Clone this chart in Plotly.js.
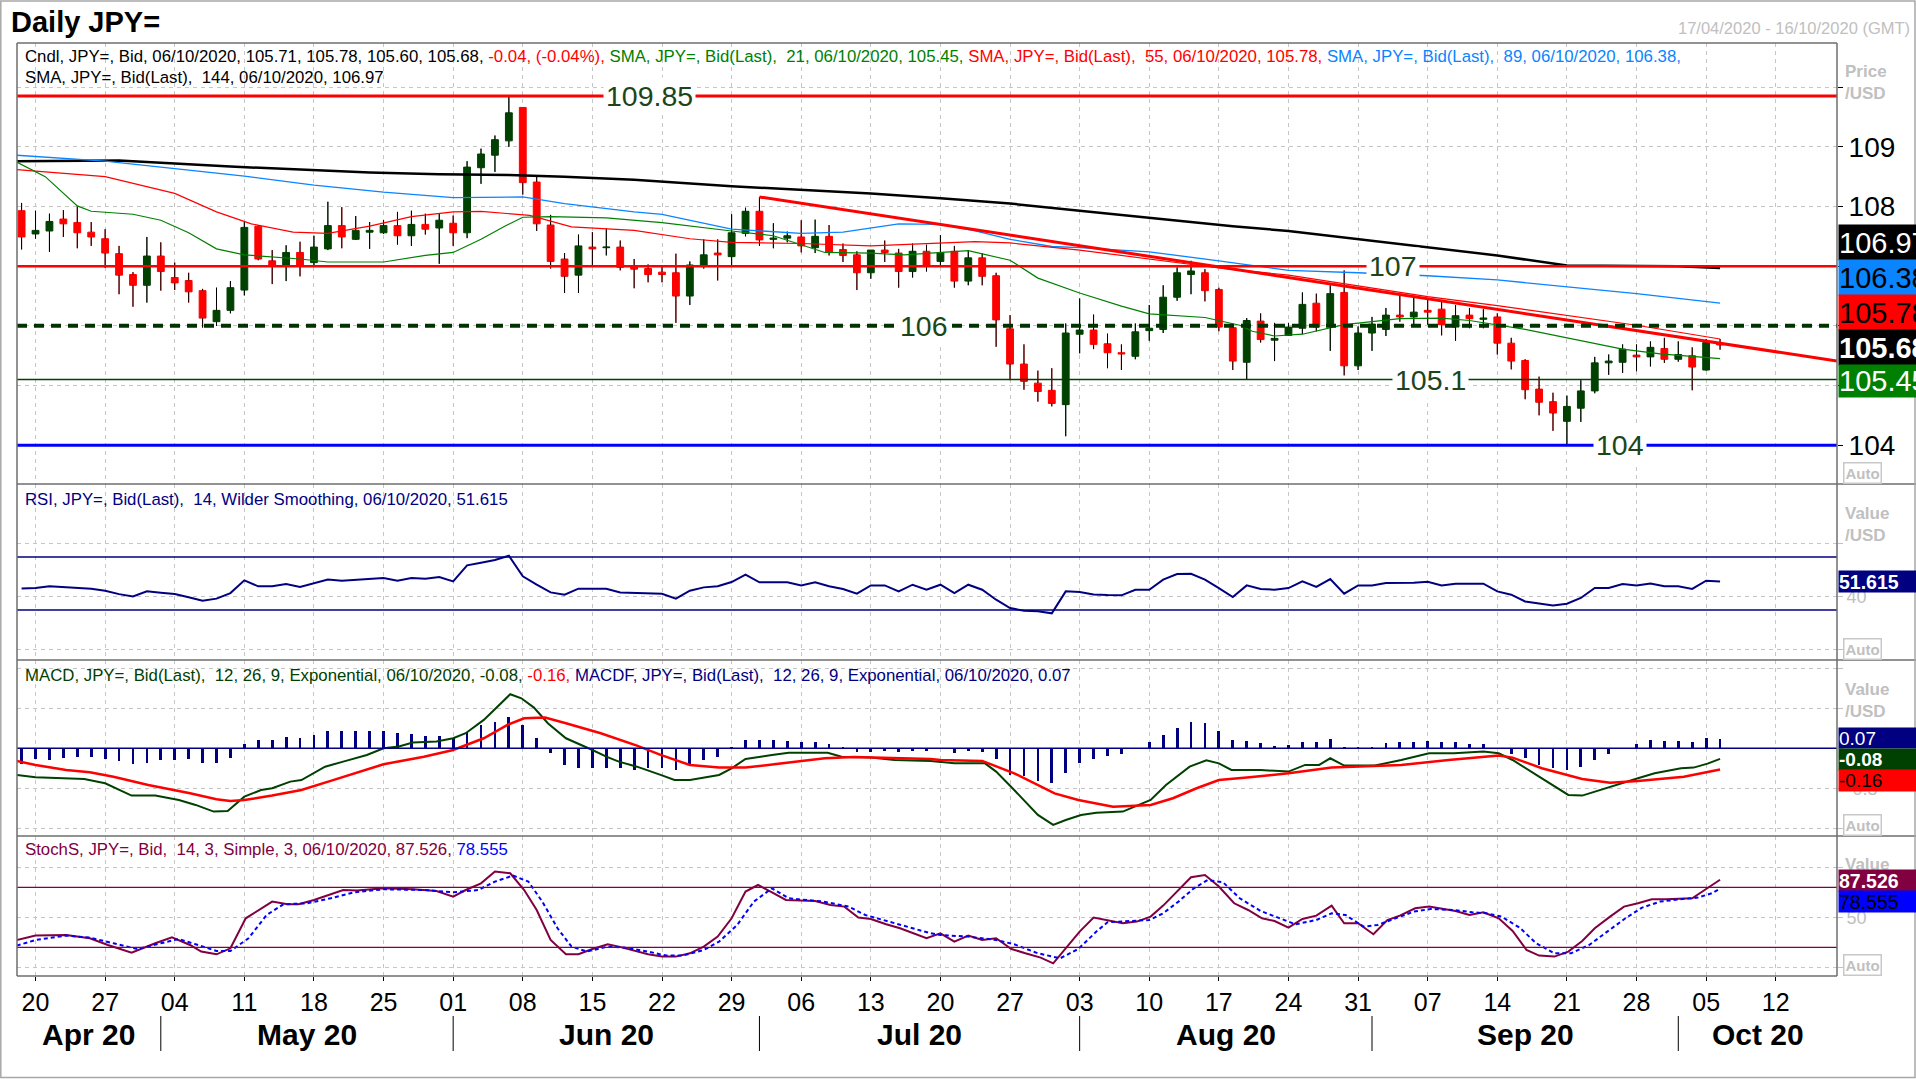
<!DOCTYPE html>
<html><head><meta charset="utf-8">
<script src="https://cdn.plot.ly/plotly-3.0.1.min.js"></script>
<style>html,body{margin:0;padding:0;background:#fff;overflow:hidden}#chart{width:1916px;height:1079px}</style>
</head><body><div id="chart"></div>
<script>
// ---------------- DATA ----------------
const openP = [107.93,107.54,107.59,107.79,107.73,107.57,107.46,107.21,106.86,106.68,
107.17,106.81,106.76,106.59,106.07,106.26,106.60,107.67,107.09,107.00,
107.23,107.06,107.29,107.68,107.45,107.57,107.56,107.68,107.51,107.70,
107.64,107.72,107.56,108.65,108.86,109.10,109.66,108.41,107.69,107.12,
106.85,107.32,107.31,107.32,107.01,106.96,106.90,106.89,106.50,107.02,
107.22,107.16,107.55,107.92,107.45,107.47,107.49,107.31,107.50,107.28,
107.19,106.89,107.27,107.22,106.91,107.25,107.08,107.25,106.75,107.14,
106.84,105.95,105.36,105.04,104.92,104.68,105.86,105.93,105.70,105.55,
105.49,105.92,105.94,106.48,106.86,106.89,106.61,105.97,105.39,106.08,
105.76,105.84,105.96,106.38,105.99,106.56,105.33,105.88,105.94,106.18,
106.15,106.26,106.28,105.98,106.18,106.11,106.15,105.71,105.42,104.94,
104.73,104.40,104.62,104.91,105.38,105.39,105.51,105.48,105.62,105.44,
105.50,105.26,105.71];
const highP = [108.06,107.93,107.88,107.94,108.00,107.74,107.62,107.34,106.90,107.49,
107.40,107.06,106.89,106.62,106.64,106.75,107.74,107.69,107.27,107.35,
107.41,107.51,108.08,107.99,107.84,107.74,107.77,107.91,107.93,107.88,
107.88,107.85,108.76,108.97,109.19,109.85,109.66,108.50,107.86,107.22,
107.53,107.57,107.63,107.43,107.12,107.03,107.01,107.21,107.08,107.45,
107.45,107.87,107.98,108.16,107.72,107.58,107.77,107.78,107.69,107.38,
107.25,107.27,107.43,107.29,107.38,107.36,107.52,107.34,107.27,107.22,
106.89,106.18,105.69,105.25,105.29,106.04,106.46,106.19,105.87,105.69,
106.04,106.35,106.68,106.98,107.09,106.95,106.64,106.02,106.13,106.21,
106.05,106.05,106.56,106.54,106.68,106.93,105.99,106.15,106.30,106.52,
106.50,106.46,106.40,106.35,106.30,106.28,106.21,105.80,105.44,105.15,
104.88,104.83,105.09,105.48,105.52,105.69,105.69,105.74,105.80,105.74,
105.64,105.78,105.78];
const lowP = [107.28,107.46,107.24,107.49,107.30,107.34,106.97,106.53,106.32,106.39,
106.59,106.60,106.39,105.97,106.00,106.21,106.51,107.10,106.70,106.75,
106.83,107.01,107.27,107.30,107.44,107.29,107.54,107.36,107.34,107.53,
107.04,107.34,107.47,108.38,108.58,109.00,108.20,107.59,106.96,106.55,
106.55,106.99,107.18,106.93,106.63,106.73,106.73,106.05,106.35,106.96,
106.76,107.01,107.50,107.34,107.30,107.40,107.23,107.22,107.18,107.07,
106.60,106.79,107.07,106.64,106.81,106.91,107.01,106.64,106.68,106.68,
105.65,105.09,104.93,104.73,104.65,104.15,105.54,105.61,105.29,105.26,
105.44,105.75,105.88,106.42,106.53,106.41,105.91,105.26,105.10,105.72,
105.41,105.83,105.86,105.91,105.58,105.17,105.26,105.58,105.83,106.07,
106.02,106.02,105.84,105.75,105.96,105.96,105.52,105.27,104.77,104.50,
104.24,104.00,104.39,104.87,105.18,105.21,105.24,105.32,105.38,105.40,
104.92,105.25,105.60];
const closeP = [107.49,107.60,107.75,107.71,107.56,107.49,107.22,106.85,106.68,107.17,
106.91,106.72,106.57,106.13,106.26,106.64,107.65,107.12,107.00,107.23,
107.00,107.32,107.68,107.49,107.60,107.60,107.68,107.51,107.70,107.62,
107.77,107.56,108.66,108.88,109.12,109.57,108.40,107.71,107.08,106.83,
107.34,107.29,107.32,106.98,106.95,106.86,106.86,106.50,107.02,107.19,
107.19,107.56,107.92,107.44,107.47,107.51,107.34,107.50,107.24,107.18,
106.89,107.27,107.23,106.91,107.25,107.01,107.23,106.75,107.14,106.83,
106.10,105.36,105.07,104.90,104.70,105.88,105.93,105.69,105.55,105.53,
105.90,105.96,106.48,106.89,106.92,106.59,105.98,105.41,106.09,105.77,
105.79,105.98,106.36,105.98,106.54,105.33,105.88,106.03,106.18,106.15,
106.23,106.23,106.02,106.17,106.12,106.13,105.71,105.41,104.93,104.72,
104.54,104.65,104.91,105.38,105.41,105.61,105.48,105.64,105.44,105.52,
105.31,105.72,105.68];
const lastChange = '-0.04, (-0.04%)';

// moving averages (read points: trading-day index, value)
const sma21X = [-0.4,1.7,4,5,8,10,12,14,16,20,22,26,29,31,33,34.7,36,38,42,44,46,51,54,57.7,61,63.4,68,71,73,76,79,81,85,87.5,88.4,90,92,95,99,102,104,108,115,117.7,122];
const sma21Y = [108.75,108.50,108.01,107.92,107.87,107.77,107.56,107.29,107.19,107.12,107.07,107.07,107.18,107.23,107.45,107.67,107.82,107.83,107.81,107.77,107.73,107.59,107.51,107.23,107.22,107.19,107.26,107.10,106.80,106.55,106.33,106.20,106.14,106.01,105.91,105.83,105.86,106.02,106.12,106.13,106.09,105.94,105.61,105.53,105.45];
const sma55X = [-0.4,6,11,14,16.5,19.5,22,25,28,31,33,36.5,39.5,44,48,51,56,61,68.5,71,76,81,86,91,96,101,106,111,116,122];
const sma55Y = [108.62,108.50,108.22,107.91,107.71,107.57,107.55,107.67,107.83,107.91,107.92,107.85,107.66,107.60,107.46,107.40,107.38,107.34,107.41,107.39,107.27,107.12,106.97,106.85,106.67,106.49,106.34,106.18,106.01,105.78];
const sma89X = [-0.4,6,16,21,26,31,36,39,44,46,51,56,59,63,66,68.5,71,74,76,81,86,91,96,101,106,111,116,122];
const sma89Y = [108.86,108.76,108.51,108.36,108.24,108.15,108.16,108.05,107.91,107.87,107.62,107.55,107.57,107.71,107.70,107.59,107.45,107.33,107.31,107.24,107.09,106.93,106.89,106.84,106.77,106.65,106.54,106.38];
const sma144X = [-0.4,7,15,20,25,30,35,39,44,51,61,66,71,76,81,87,91,96,101,106,111,116,119,122];
const sma144Y = [108.76,108.77,108.67,108.62,108.57,108.54,108.53,108.50,108.45,108.34,108.22,108.14,108.05,107.93,107.81,107.67,107.59,107.45,107.32,107.18,107.01,107.01,107.00,106.97];

// trendline (from Jul 1 high to chart right edge)
const trendX = [53, 130.4];
const trendY = [108.16, 105.41];

// horizontal levels
const levels = [109.85, 107, 106, 105.1, 104];
const levelLabelX = [45.1, 98.5, 64.8, 101.2, 114.8];

// RSI (14) per trading day
const rsi = [46.3,46.6,47.9,47.3,46.5,46.1,44.6,42.0,40.3,44.1,
43.0,42.1,39.6,37.0,38.6,42.8,52.4,47.9,47.9,49.6,
47.4,50.1,53.1,52.1,52.9,53.5,54.2,52.1,54.2,53.7,
54.9,51.6,63.7,65.7,67.7,71.0,55.4,49.1,43.3,41.6,
46.1,46.1,46.1,43.3,43.1,42.8,42.3,38.6,44.6,47.1,
47.9,51.1,56.7,50.9,50.9,50.9,48.6,50.9,47.9,45.9,
42.3,48.6,48.6,44.1,49.1,45.3,49.1,42.8,49.1,45.3,
37.8,31.5,29.5,29.0,27.5,44.1,43.6,41.8,41.3,41.1,
45.3,45.3,52.9,57.2,57.4,52.9,46.6,39.8,48.6,45.9,
45.3,46.6,51.6,47.4,53.4,42.3,48.6,48.6,50.4,50.6,
50.6,51.4,48.6,49.9,49.9,49.9,44.1,41.6,36.5,35.0,
33.5,34.8,39.1,46.6,46.6,49.6,48.6,50.1,47.9,47.9,
45.9,52.1,51.615];
const rsiLevels = [70, 30];

// MACD (12,26,9)
const macdX = [-0.35,1,4.5,6,7.9,9.6,11.3,12.5,13.8,14.8,16,17.2,18,19.3,20.1,21.8,23.1,24.8,26,27.1,28.1,29.8,31,31.9,33.2,34.2,35.1,35.9,36.8,37.8,39.1,41,42,42.9,44.2,45.9,46.9,48,50.1,51,52,53.9,55.1,57.9,58.9,61,62.7,65.3,67,69.2,70,71.3,73,74.1,75,76.1,77.2,79.1,81.1,82.2,83.9,85.1,86,86.9,89,91,92.2,93.2,94,95,97.2,99.1,101.1,102.9,105,106.1,107.1,108.8,110.1,111.1,112.1,114.1,116.1,117.3,119.2,120.1,121.1,122];
const macdY = [-0.20,-0.218,-0.23,-0.263,-0.355,-0.355,-0.388,-0.425,-0.475,-0.47,-0.363,-0.313,-0.30,-0.25,-0.238,-0.138,-0.10,-0.05,0,0.013,0.043,0.05,0.075,0.113,0.213,0.313,0.405,0.375,0.305,0.188,0.075,-0.013,-0.063,-0.10,-0.138,-0.20,-0.238,-0.238,-0.20,-0.15,-0.08,-0.05,-0.033,-0.033,-0.063,-0.07,-0.088,-0.095,-0.113,-0.113,-0.175,-0.313,-0.50,-0.575,-0.538,-0.50,-0.483,-0.475,-0.388,-0.275,-0.138,-0.09,-0.113,-0.163,-0.163,-0.175,-0.125,-0.125,-0.075,-0.13,-0.13,-0.088,-0.038,-0.038,-0.025,-0.038,-0.088,-0.20,-0.288,-0.35,-0.355,-0.288,-0.225,-0.188,-0.15,-0.145,-0.115,-0.08];
const signalX = [-0.35,1,3.2,4.9,6.6,9.1,12.1,14,15,16,18,20.1,22.2,24.3,26,28.9,31,33.2,34.9,36.1,37.6,39.1,41.6,44.2,45.9,48,50.1,52,54.3,57.7,59.8,62.7,65.3,66,69,71.3,74.2,75.9,78.4,81.1,82.7,84.4,86,88.2,91,94.1,96.2,99.1,102.5,105,106.1,107.1,109.2,112.1,114.1,116.1,119.4,122];
const signalY = [-0.095,-0.125,-0.163,-0.18,-0.213,-0.275,-0.338,-0.383,-0.395,-0.388,-0.355,-0.313,-0.245,-0.175,-0.12,-0.063,-0.013,0.075,0.175,0.225,0.23,0.188,0.113,0.02,-0.05,-0.125,-0.145,-0.145,-0.118,-0.075,-0.065,-0.07,-0.08,-0.088,-0.095,-0.188,-0.338,-0.388,-0.438,-0.425,-0.375,-0.30,-0.238,-0.218,-0.188,-0.145,-0.138,-0.125,-0.088,-0.063,-0.055,-0.07,-0.15,-0.23,-0.258,-0.245,-0.213,-0.16];
const macdHist = [-0.12,-0.083,-0.088,-0.07,-0.063,-0.063,-0.08,-0.095,-0.12,-0.113,
-0.088,-0.088,-0.083,-0.113,-0.113,-0.075,0.03,0.063,0.063,0.088,
0.075,0.10,0.133,0.133,0.133,0.133,0.133,0.113,0.105,0.095,
0.095,0.075,0.125,0.175,0.20,0.238,0.175,0.075,-0.038,-0.125,
-0.145,-0.145,-0.145,-0.15,-0.163,-0.15,-0.145,-0.163,-0.125,-0.088,
-0.063,0.013,0.063,0.063,0.063,0.055,0.05,0.05,0.03,0.013,
-0.025,-0.025,-0.018,-0.025,-0.018,-0.02,-0.008,-0.038,-0.02,-0.03,
-0.08,-0.2,-0.205,-0.245,-0.263,-0.188,-0.113,-0.08,-0.055,-0.045,
0,0.045,0.10,0.155,0.195,0.188,0.13,0.063,0.058,0.038,
0.02,0.025,0.05,0.045,0.07,0.008,0.008,0.013,0.038,0.045,
0.05,0.058,0.045,0.045,0.035,0.035,0,-0.045,-0.07,-0.125,
-0.145,-0.163,-0.138,-0.088,-0.04,0,0.033,0.063,0.058,0.058,
0.05,0.075,0.07];

// Slow stochastics (14,3,3)
const stochKX = [-0.35,1,3.2,4.9,6.2,7.9,9.6,10.8,12.1,12.9,14,15,16.1,18,19.1,19.9,21,22,23.1,24.1,26,28.1,29.8,31,31.9,33,34,35.1,36.1,37,38,39.1,40,41,42.1,42.9,44,45,46,47,48,49,50,51,52,52.9,53.9,54.9,57,58.1,59.1,60.1,61,62.1,63.1,64,65,66,67,68,69,70,71.1,72.1,73.2,74.1,75.1,76,77,78,79.1,80.1,81.1,82,83,84,85,86,87.1,88.1,89.1,90,91,92,93,94.1,95,96,97.1,98.1,99,100.1,101.1,102,103,104,105,106.1,107.1,108.1,109,110.1,111.1,112.1,113,114.1,115.1,116.1,117.1,118.1,119.1,120,121,122];
const stochKY = [27.3,31.7,32.3,29,22.3,14.7,24,30,22.3,15.7,13,19,49,65.7,63,63,67.3,71.7,77.3,76.7,79,78,76.3,70.7,77.3,84,95.7,94,77.3,57.3,27.3,13,13,18.3,23,20.7,16.7,13,10.7,10.7,14,20.7,30.7,49,75.7,82.3,75,67.3,66.3,62.3,60.7,49.7,48.3,43,39,34,29,34,25.7,31.7,27.3,29,18.3,14,9.7,4,20.7,35.7,49.7,47.3,44,45.7,50.7,61.7,75.7,90,92.3,80.7,64,57.3,49,46.3,39.7,48.3,51.7,61.7,44,44,33,47.3,51.7,59,60.7,58.3,56.3,52.3,55,49,36.3,17.3,11.7,10.7,15.7,26.3,39,50.7,60.7,64,68,68,68.3,69,78.3,87.526];
const stochDX = [-0.35,1,3.2,4.9,6.6,8.3,10,11.3,12.5,14,15,16.3,17.6,18.8,20.5,22.2,23.9,26,29,31,32.8,34,35.3,36.4,37.4,38.5,39.5,40.6,42.1,43.3,45,46.3,47.5,49,50.1,51.4,52.6,53.9,55.1,57.6,59.4,60.6,62.3,64,65.3,66,68,70,71.3,73,74.6,75.9,77.2,78,79.3,81,82,83.1,84.2,85.2,86.3,87.5,89,90.3,91.5,93,94.1,95.1,96.4,97.4,98.7,100,101.2,102.9,104.2,105.2,106.3,107.6,108.8,110.1,111.3,112.6,113.9,115.2,116.4,117.7,119.3,120.4,121.4,122];
const stochDY = [21.7,27.3,31.7,29.7,24,18.3,24,28.3,23,16.3,16.3,29,52.3,63,64,69,75,78,77.3,75,77.3,85.7,91.7,85.7,65.7,39,20.7,15.7,20.7,19.7,15.7,11.7,11.7,17.3,25.7,42.3,65.7,79,69,65.7,60.7,52.3,45.7,39,34,32.3,30.7,27.3,23,14,9,18.3,35.7,45,45.7,47.3,54,65.7,79,87.3,85,69,56.3,49,43,47.3,54,52.3,40.7,42.3,49,55.7,58.3,57.3,55,54,50.7,39.7,24,14,14,22.3,35.7,49,59.7,65.7,68.3,69.7,74,78.555];
const stochLevels = [80, 20];

// axis labels
const dayLabels = ['20','27','04','11','18','25','01','08','15','22','29','06','13','20','27','03','10','17','24','31','07','14','21','28','05','12'];
const monthNames = ['Apr 20','May 20','Jun 20','Jul 20','Aug 20','Sep 20','Oct 20'];
const monthStartIdx = [10, 31, 53, 76, 97, 119];
const priceTicks = [104,105,106,107,108,109,110];

// ---------------- LAYOUT HELPERS ----------------
const FONT = 'Liberation Sans, Arial, sans-serif';
const L = 17, R = 1837, T = 43, B = 976;
const px = x => (x - L) / (R - L);
const py = y => (B - y) / (B - T);
const xMin = -0.33, xMax = 130.4;
const GRID = '#c6c6c6', GDASH = '4px,4px';
const last = a => a[a.length - 1];

const days = openP.map((_, i) => i);
const mondayIdx = dayLabels.map((_, k) => 1 + 5 * k);

// wick segments outside bodies (black)
const wx = [], wy = [];
days.forEach(i => {
  const top = Math.max(openP[i], closeP[i]), bot = Math.min(openP[i], closeP[i]);
  wx.push(i, i, null, i, i, null);
  wy.push(highP[i], top, null, bot, lowP[i], null);
});

const traces = [
  {type:'candlestick', x:days, open:openP, high:highP, low:lowP, close:closeP, xaxis:'x', yaxis:'y',
   increasing:{line:{color:'#004000', width:1}, fillcolor:'#004000'},
   decreasing:{line:{color:'#ff0000', width:1}, fillcolor:'#ff0000'},
   whiskerwidth:0, hoverinfo:'none', showlegend:false},
  {type:'scatter', mode:'lines', x:wx, y:wy, xaxis:'x', yaxis:'y', line:{color:'#000', width:1}, hoverinfo:'skip', connectgaps:false},
  {type:'scatter', mode:'lines', x:sma144X, y:sma144Y, xaxis:'x', yaxis:'y', line:{color:'#000', width:2.5}, hoverinfo:'skip'},
  {type:'scatter', mode:'lines', x:sma89X, y:sma89Y, xaxis:'x', yaxis:'y', line:{color:'#0a84ff', width:1.3}, hoverinfo:'skip'},
  {type:'scatter', mode:'lines', x:sma55X, y:sma55Y, xaxis:'x', yaxis:'y', line:{color:'#ff0000', width:1.2}, hoverinfo:'skip'},
  {type:'scatter', mode:'lines', x:sma21X, y:sma21Y, xaxis:'x', yaxis:'y', line:{color:'#008000', width:1.2}, hoverinfo:'skip'},
  {type:'scatter', mode:'lines', x:trendX, y:trendY, xaxis:'x', yaxis:'y', line:{color:'#ff0000', width:3}, hoverinfo:'skip'},
  // RSI
  {type:'scatter', mode:'lines', x:days, y:rsi, xaxis:'x', yaxis:'y2', line:{color:'#000080', width:2}, hoverinfo:'skip'},
  // MACD
  {type:'bar', x:days, y:macdHist, xaxis:'x', yaxis:'y3', marker:{color:'#000080', line:{width:0}}, width:0.2, hoverinfo:'skip'},
  {type:'scatter', mode:'lines', x:macdX, y:macdY, xaxis:'x', yaxis:'y3', line:{color:'#004000', width:2}, hoverinfo:'skip'},
  {type:'scatter', mode:'lines', x:signalX, y:signalY, xaxis:'x', yaxis:'y3', line:{color:'#ff0000', width:2.5}, hoverinfo:'skip'},
  // Stochastics
  {type:'scatter', mode:'lines', x:stochKX, y:stochKY, xaxis:'x', yaxis:'y4', line:{color:'#800040', width:2}, hoverinfo:'skip'},
  {type:'scatter', mode:'lines', x:stochDX, y:stochDY, xaxis:'x', yaxis:'y4', line:{color:'#0000ff', width:2, dash:'4px,3px'}, hoverinfo:'skip'}
];

// ---------------- SHAPES ----------------
const levelStyle = [
  {color:'#ff0000', width:3, dash:'solid'},
  {color:'#ff0000', width:2.5, dash:'solid'},
  {color:'#003300', width:4, dash:'10px,7px'},
  {color:'#004000', width:1.5, dash:'solid'},
  {color:'#0000ff', width:3, dash:'solid'}
];
const shapes = [];
levels.forEach((v, k) => shapes.push({type:'line', xref:'x', yref:'y', x0:xMin, x1:xMax, y0:v, y1:v, line:levelStyle[k], layer:'above'}));
rsiLevels.forEach(v => shapes.push({type:'line', xref:'x', yref:'y2', x0:xMin, x1:xMax, y0:v, y1:v, line:{color:'#000080', width:1.5}}));
shapes.push({type:'line', xref:'x', yref:'y3', x0:xMin, x1:xMax, y0:0, y1:0, line:{color:'#000080', width:1.5}});
stochLevels.forEach(v => shapes.push({type:'line', xref:'x', yref:'y4', x0:xMin, x1:xMax, y0:v, y1:v, line:{color:'#800040', width:1.3}}));
// frame and panel separators
const FR = {color:'#6e6e6e', width:1.5};
shapes.push({type:'line', xref:'paper', yref:'paper', x0:0, x1:1, y0:1, y1:1, line:FR});
shapes.push({type:'line', xref:'paper', yref:'paper', x0:0, x1:0, y0:0, y1:1, line:FR});
shapes.push({type:'line', xref:'paper', yref:'paper', x0:1, x1:1, y0:0, y1:1, line:FR});
shapes.push({type:'line', xref:'paper', yref:'paper', x0:0, x1:1, y0:0, y1:0, line:FR});
[484, 660, 836].forEach(y => shapes.push({type:'line', xref:'paper', yref:'paper', x0:0, x1:px(1916), y0:py(y), y1:py(y), line:FR}));
// outer border of picture
shapes.push({type:'rect', xref:'paper', yref:'paper', x0:px(0.8), x1:px(1915), y0:py(1077.5), y1:py(1), line:{color:'#a8a8a8', width:1.5}});
// month separators
monthStartIdx.forEach(m => shapes.push({type:'line', xref:'x', yref:'paper', x0:m, x1:m, y0:py(1016), y1:py(1051), line:{color:'#000', width:1}}));

// ---------------- ANNOTATIONS ----------------
const ann = [];
const LF = 16.8;
const A = (o) => ann.push(Object.assign({showarrow:false, xref:'paper', yref:'paper', xanchor:'left', yanchor:'middle', font:{family:FONT, size:LF, color:'#000'}}, o));
const n = closeP.length - 1;
const sp = (c, t) => `<span style="color:${c}">${t}</span>`;

A({x:px(9), y:py(22), text:'<b>Daily JPY=</b>', font:{family:FONT, size:29, color:'#000'}});
A({x:px(1912), y:py(28), xanchor:'right', text:'17/04/2020 - 16/10/2020 (GMT)', font:{family:FONT, size:16.5, color:'#c0c0c0'}});
A({x:px(23), y:py(56), text:
  sp('#000', `Cndl, JPY=, Bid, 06/10/2020, ${openP[n].toFixed(2)}, ${highP[n].toFixed(2)}, ${lowP[n].toFixed(2)}, ${closeP[n].toFixed(2)}, `) +
  sp('#ff0000', lastChange + ', ') +
  sp('#008000', `SMA, JPY=, Bid(Last),&nbsp; 21, 06/10/2020, ${last(sma21Y).toFixed(2)}, `) +
  sp('#ff0000', `SMA, JPY=, Bid(Last),&nbsp; 55, 06/10/2020, ${last(sma55Y).toFixed(2)}, `) +
  sp('#0a84ff', `SMA, JPY=, Bid(Last),&nbsp; 89, 06/10/2020, ${last(sma89Y).toFixed(2)},`)});
A({x:px(23), y:py(77), text:`SMA, JPY=, Bid(Last),&nbsp; 144, 06/10/2020, ${last(sma144Y).toFixed(2)}`});
A({x:px(23), y:py(499), text:sp('#000080', `RSI, JPY=, Bid(Last),&nbsp; 14, Wilder Smoothing, 06/10/2020, ${rsi[n].toFixed(3)}`)});
A({x:px(23), y:py(675), text:
  sp('#004000', `MACD, JPY=, Bid(Last),&nbsp; 12, 26, 9, Exponential, 06/10/2020, ${last(macdY).toFixed(2)}, `) +
  sp('#ff0000', `${last(signalY).toFixed(2)}, `) +
  sp('#000080', `MACDF, JPY=, Bid(Last),&nbsp; 12, 26, 9, Exponential, 06/10/2020, ${macdHist[n].toFixed(2)}`)});
A({x:px(23), y:py(849), text:
  sp('#800040', `StochS, JPY=, Bid,&nbsp; 14, 3, Simple, 3, 06/10/2020, ${last(stochKY).toFixed(3)}, `) +
  sp('#0000ff', `${last(stochDY).toFixed(3)}`)});

// level labels
levels.forEach((v, k) => ann.push({showarrow:false, xref:'x', yref:'y', x:levelLabelX[k], y:v, xanchor:'center', yanchor:'middle',
  text:String(v), bgcolor:'#ffffff', borderpad:2, font:{family:FONT, size:28.5, color:'#1b461b'}}));

// right-hand headers
const GR = '#c0c0c0';
A({x:px(1843), y:py(83), text:'<b>Price</b><br><b>/USD</b>', align:'left', font:{family:FONT, size:17, color:GR}});
A({x:px(1843), y:py(524), text:'<b>Value</b><br><b>/USD</b>', align:'left', font:{family:FONT, size:17, color:GR}});
A({x:px(1843), y:py(700), text:'<b>Value</b><br><b>/USD</b>', align:'left', font:{family:FONT, size:17, color:GR}});
A({x:px(1843), y:py(864), text:'<b>Value</b>', font:{family:FONT, size:17, color:GR}});
[473, 649, 825, 965].forEach(y => A({x:px(1843), y:py(y), text:'<b>Auto</b>', bordercolor:'#c8c8c8', borderwidth:1.5, borderpad:1, font:{family:FONT, size:15, color:GR}}));

// right-hand value boxes
const box = (y, h, txt, bg, fc, size, bold) => A({x:px(1838), y:py(y), width:92, height:h, align:'left', bgcolor:bg, borderpad:0,
  text: bold ? `<b>${txt}</b>` : txt, font:{family:FONT, size:size, color:fc}});
box(242.5, 35, last(sma144Y).toFixed(2), '#000000', '#ffffff', 29, false);
box(277.5, 35, last(sma89Y).toFixed(2), '#0a84ff', '#000000', 29, false);
box(312.5, 35, last(sma55Y).toFixed(2), '#ff0000', '#000000', 29, false);
box(347.5, 35, closeP[n].toFixed(2), '#000000', '#ffffff', 29, true);
box(381, 32, last(sma21Y).toFixed(2), '#008000', '#ffffff', 29, false);
box(582, 21, rsi[n].toFixed(3), '#000080', '#ffffff', 19.5, true);
box(738, 20, macdHist[n].toFixed(2), '#000080', '#ffffff', 19, false);
box(759, 21, last(macdY).toFixed(2), '#004000', '#ffffff', 19, true);
box(780, 21, last(signalY).toFixed(2), '#ff0000', '#000000', 19, false);
box(880, 21, last(stochKY).toFixed(3), '#800040', '#ffffff', 19.5, true);
box(901, 21, last(stochDY).toFixed(3), '#0000ff', '#000000', 19.5, false);

// month labels
const bounds = [xMin].concat(monthStartIdx, [xMax]);
monthNames.forEach((m, k) => ann.push({showarrow:false, xref:'x', yref:'paper', x:(bounds[k] + bounds[k+1]) / 2, y:py(1034),
  xanchor:'center', yanchor:'middle', text:`<b>${m}</b>`, font:{family:FONT, size:30, color:'#000'}}));

// ---------------- AXES ----------------
const yBase = {anchor:'x', side:'right', showgrid:true, gridcolor:GRID, griddash:GDASH, gridwidth:1, zeroline:false, showline:false,
  tickmode:'array', ticks:'outside', ticklen:5, fixedrange:true};
const layout = {
  width:1916, height:1079, margin:{l:L, r:1916 - R, t:T, b:1079 - B, pad:0},
  paper_bgcolor:'#ffffff', plot_bgcolor:'#ffffff', showlegend:false, hovermode:false, dragmode:false,
  font:{family:FONT, color:'#000'}, bargap:0,
  xaxis:{domain:[0,1], anchor:'y4', range:[xMin, xMax], tickmode:'array', tickvals:mondayIdx, ticktext:dayLabels,
    tickfont:{family:FONT, size:25, color:'#000'}, ticks:'outside', ticklen:4, tickcolor:'#000', ticklabelstandoff:0,
    showgrid:true, gridcolor:GRID, griddash:GDASH, gridwidth:1, zeroline:false, showline:false,
    rangeslider:{visible:false}, fixedrange:true},
  yaxis:Object.assign({}, yBase, {domain:[py(484), 1], range:[103.35, 110.74], tickvals:priceTicks,
    ticktext:priceTicks.map(v => v === 110 ? '' : String(v)), tickfont:{family:FONT, size:28, color:'#000'}, tickcolor:'#000'}),
  yaxis2:Object.assign({}, yBase, {domain:[py(660), py(484)], range:[-7.7, 125.1], tickvals:[0,40,80], ticktext:['','40',''],
    tickfont:{family:FONT, size:18, color:GR}, tickcolor:GR}),
  yaxis3:Object.assign({}, yBase, {domain:[py(836), py(660)], range:[-0.658, 0.662], tickvals:[-0.6,-0.3,0,0.3,0.6], ticktext:['','-0.3','','',''],
    tickfont:{family:FONT, size:18, color:GR}, tickcolor:GR}),
  yaxis4:Object.assign({}, yBase, {domain:[0, py(836)], range:[-8.7, 131.3], tickvals:[0,50,100], ticktext:['','50',''],
    tickfont:{family:FONT, size:18, color:GR}, tickcolor:GR}),
  shapes:shapes, annotations:ann
};

Plotly.newPlot('chart', traces, layout, {displayModeBar:false, staticPlot:true});
</script>
</body></html>
